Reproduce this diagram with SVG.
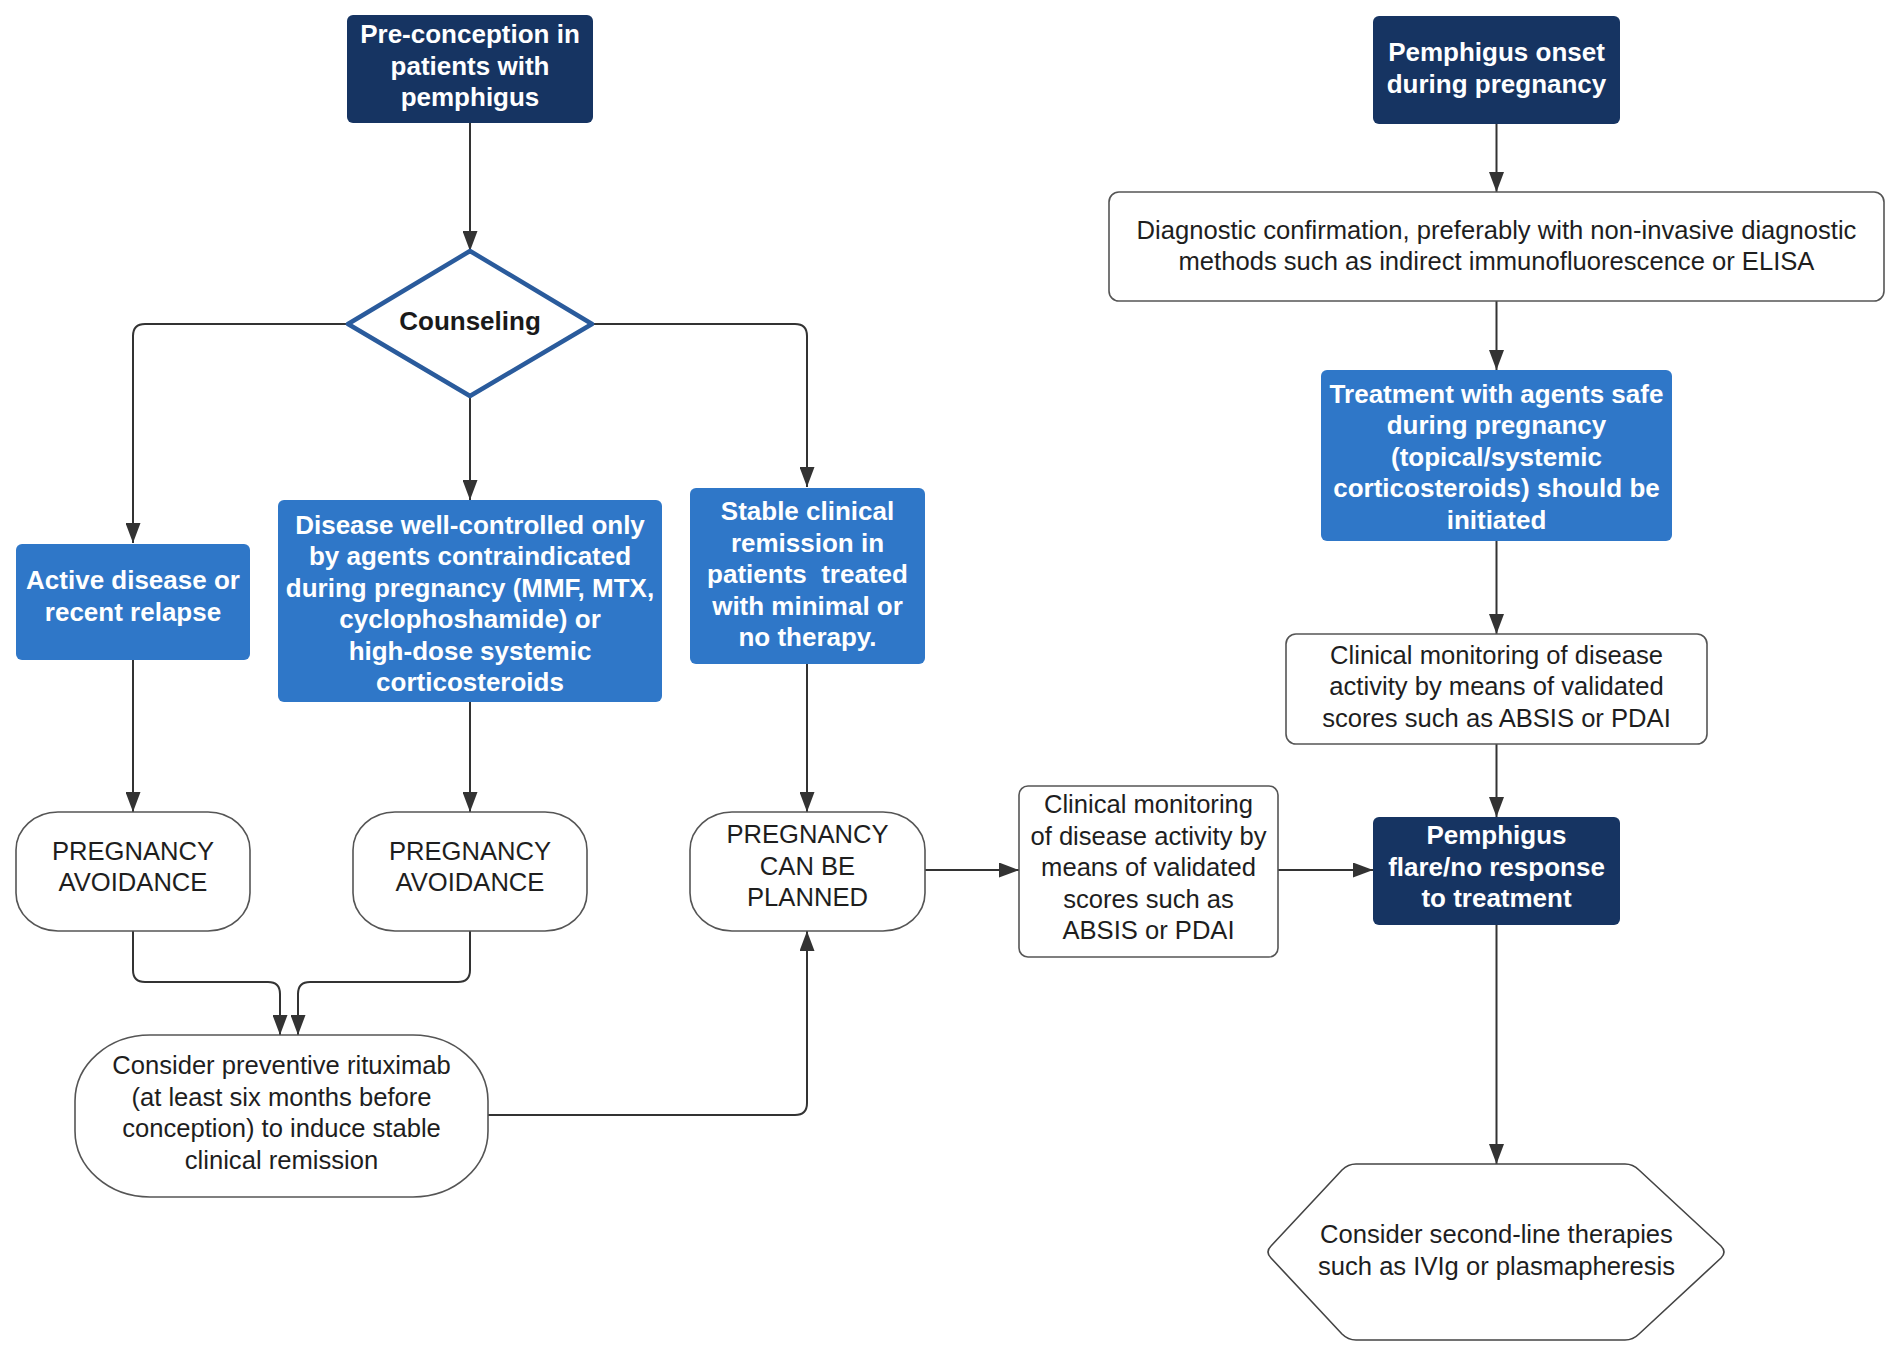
<svg xmlns="http://www.w3.org/2000/svg" width="1895" height="1352" viewBox="0 0 1895 1352">
<defs>
<marker id="ah" markerUnits="userSpaceOnUse" markerWidth="20" markerHeight="15" refX="20" refY="7.5" orient="auto">
<path d="M0,0 L20,7.5 L0,15 z" fill="#333"/>
</marker>
<style>
.navy{fill:#163462;}
.blue{fill:#2f77c8;}
.wbox{fill:#fff;stroke:#555;stroke-width:1.6;}
.tb{font-family:"Liberation Sans",Arial,sans-serif;font-weight:bold;font-size:26px;fill:#fff;text-anchor:middle;}
.tr{font-family:"Liberation Sans",Arial,sans-serif;font-size:25.6px;fill:#1e1e1e;text-anchor:middle;}
.tk{font-family:"Liberation Sans",Arial,sans-serif;font-weight:bold;font-size:26px;fill:#1a1a1a;text-anchor:middle;}
.con path{fill:none;stroke:#333;stroke-width:2;marker-end:url(#ah);}
</style>
</defs>
<rect width="1895" height="1352" fill="#fff"/>

<g id="connectors" class="con">
<path d="M470,123 V251"/>
<path d="M348,324 H145 Q133,324 133,336 V543"/>
<path d="M470,396 V500"/>
<path d="M592,324 H795 Q807,324 807,336 V487"/>
<path d="M133,660 V812"/>
<path d="M470,702 V812"/>
<path d="M807,664 V812"/>
<path d="M133,931 V970 Q133,982 145,982 H268 Q280,982 280,994 V1035"/>
<path d="M470,931 V970 Q470,982 458,982 H310 Q298,982 298,994 V1035"/>
<path d="M488,1115 H795 Q807,1115 807,1103 V931"/>
<path d="M925,870 H1019"/>
<path d="M1278,870 H1373"/>
<path d="M1496.5,124 V192"/>
<path d="M1496.5,301 V370"/>
<path d="M1496.5,541 V634"/>
<path d="M1496.5,744 V817"/>
<path d="M1496.5,925 V1164"/>
</g>

<g id="preconception">
<rect class="navy" x="347" y="15" width="246" height="108" rx="6"/>
<text class="tb" x="470" y="43">Pre-conception in</text>
<text class="tb" x="470" y="74.5">patients with</text>
<text class="tb" x="470" y="106">pemphigus</text>
</g>

<g id="counseling">
<polygon points="470,251 592,324 470,396 348,324" fill="#fff" stroke="#2a5b9c" stroke-width="4.5" stroke-linejoin="round"/>
<text class="tk" x="470" y="330">Counseling</text>
</g>

<g id="active">
<rect class="blue" x="16" y="544" width="234" height="116" rx="6"/>
<text class="tb" x="133" y="589">Active disease or</text>
<text class="tb" x="133" y="621">recent relapse</text>
</g>

<g id="wellcontrolled">
<rect class="blue" x="278" y="500" width="384" height="202" rx="6"/>
<text class="tb" x="470" y="534">Disease well-controlled only</text>
<text class="tb" x="470" y="565.4">by agents contraindicated</text>
<text class="tb" x="470" y="596.8">during pregnancy (MMF, MTX,</text>
<text class="tb" x="470" y="628.2">cyclophoshamide) or</text>
<text class="tb" x="470" y="659.6">high-dose systemic</text>
<text class="tb" x="470" y="691">corticosteroids</text>
</g>

<g id="stable">
<rect class="blue" x="690" y="488" width="235" height="176" rx="6"/>
<text class="tb" x="807.5" y="520">Stable clinical</text>
<text class="tb" x="807.5" y="551.5">remission in</text>
<text class="tb" x="807.5" y="583" xml:space="preserve">patients  treated</text>
<text class="tb" x="807.5" y="614.5">with minimal or</text>
<text class="tb" x="807.5" y="646">no therapy.</text>
</g>

<g id="avoid1">
<rect class="wbox" x="16" y="812" width="234" height="119" rx="42" ry="38"/>
<text class="tr" x="133" y="860">PREGNANCY</text>
<text class="tr" x="133" y="891">AVOIDANCE</text>
</g>

<g id="avoid2">
<rect class="wbox" x="353" y="812" width="234" height="119" rx="42" ry="38"/>
<text class="tr" x="470" y="860">PREGNANCY</text>
<text class="tr" x="470" y="891">AVOIDANCE</text>
</g>

<g id="planned">
<rect class="wbox" x="690" y="812" width="235" height="119" rx="42" ry="38"/>
<text class="tr" x="807.5" y="843">PREGNANCY</text>
<text class="tr" x="807.5" y="875">CAN BE</text>
<text class="tr" x="807.5" y="906">PLANNED</text>
</g>

<g id="rituximab">
<rect class="wbox" x="75" y="1035" width="413" height="162" rx="75" ry="66"/>
<text class="tr" x="281.5" y="1074">Consider preventive rituximab</text>
<text class="tr" x="281.5" y="1105.5">(at least six months before</text>
<text class="tr" x="281.5" y="1137">conception) to induce stable</text>
<text class="tr" x="281.5" y="1168.5">clinical remission</text>
</g>

<g id="monitorleft">
<rect class="wbox" x="1019" y="786" width="259" height="171" rx="9"/>
<text class="tr" x="1148.5" y="813">Clinical monitoring</text>
<text class="tr" x="1148.5" y="844.5">of disease activity by</text>
<text class="tr" x="1148.5" y="876">means of validated</text>
<text class="tr" x="1148.5" y="907.5">scores such as</text>
<text class="tr" x="1148.5" y="939">ABSIS or PDAI</text>
</g>

<g id="flare">
<rect class="navy" x="1373" y="817" width="247" height="108" rx="6"/>
<text class="tb" x="1496.5" y="844">Pemphigus</text>
<text class="tb" x="1496.5" y="875.5">flare/no response</text>
<text class="tb" x="1496.5" y="907">to treatment</text>
</g>

<g id="onset">
<rect class="navy" x="1373" y="16" width="247" height="108" rx="6"/>
<text class="tb" x="1496.5" y="61">Pemphigus onset</text>
<text class="tb" x="1496.5" y="92.5">during pregnancy</text>
</g>

<g id="diagnostic">
<rect class="wbox" x="1109" y="192" width="775" height="109" rx="10"/>
<text class="tr" x="1496.5" y="238.5">Diagnostic confirmation, preferably with non-invasive diagnostic</text>
<text class="tr" x="1496.5" y="270">methods such as indirect immunofluorescence or ELISA</text>
</g>

<g id="treatment">
<rect class="blue" x="1321" y="370" width="351" height="171" rx="6"/>
<text class="tb" x="1496.5" y="402.5">Treatment with agents safe</text>
<text class="tb" x="1496.5" y="434">during pregnancy</text>
<text class="tb" x="1496.5" y="465.5">(topical/systemic</text>
<text class="tb" x="1496.5" y="497">corticosteroids) should be</text>
<text class="tb" x="1496.5" y="528.5">initiated</text>
</g>

<g id="monitorright">
<rect class="wbox" x="1286" y="634" width="421" height="110" rx="10"/>
<text class="tr" x="1496.5" y="663.5">Clinical monitoring of disease</text>
<text class="tr" x="1496.5" y="695">activity by means of validated</text>
<text class="tr" x="1496.5" y="726.5">scores such as ABSIS or PDAI</text>
</g>

<g id="secondline">
<path d="M1356,1164 H1625 Q1633,1164 1639,1170 L1721,1246 Q1727,1252 1721,1258 L1639,1334 Q1633,1340 1625,1340 H1356 Q1348,1340 1342,1334 L1271,1258 Q1265,1252 1271,1246 L1342,1170 Q1348,1164 1356,1164 Z" fill="#fff" stroke="#444" stroke-width="1.6" stroke-linejoin="round"/>
<text class="tr" x="1496.5" y="1243">Consider second-line therapies</text>
<text class="tr" x="1496.5" y="1274.5">such as IVIg or plasmapheresis</text>
</g>
</svg>
